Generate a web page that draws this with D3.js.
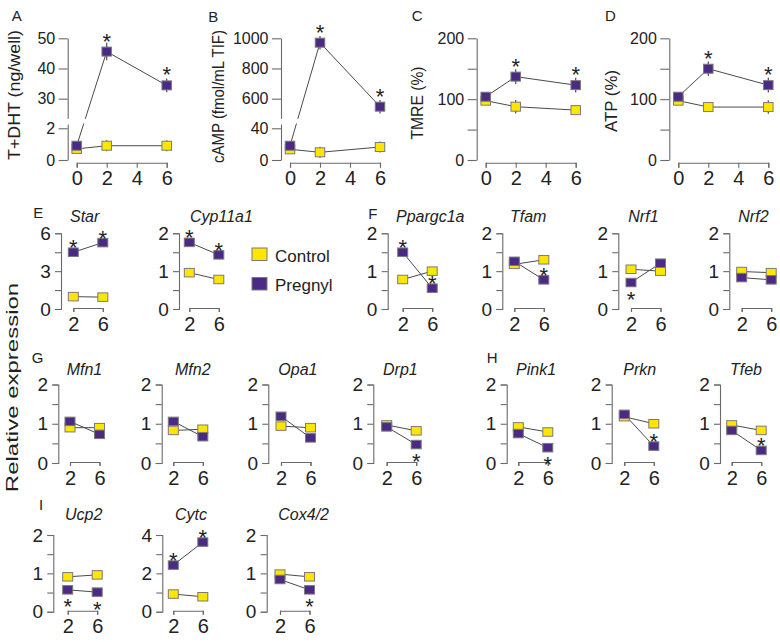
<!DOCTYPE html>
<html><head><meta charset="utf-8">
<script src="https://cdn.jsdelivr.net/npm/d3@7"></script>
<style>
body{margin:0;background:#fff;}
svg{display:block;font-family:"Liberation Sans",Arial,sans-serif;}
</style></head><body>
<svg id="chart" width="780" height="642"></svg>
<script>
// ---------------- DATA ----------------
const times = [0, 2, 6];
const topXTicks = [0, 2, 4, 6];
const topLetters = ["A", "B", "C", "D"];
const topTitles = ["T+DHT (ng/well)", "cAMP (fmol/mL TIF)", "TMRE (%)", "ATP (%)"];

const dhtControl = [0.7, 0.9, 0.9];
const dhtPregnyl = [0.9, 45.6, 34.4];
const dhtControlErr = [0.1, 0.35, 0.35];
const dhtPregnylErr = [0.15, 2.9, 2.3];

const campControl = [13.5, 9.7, 16.4];
const campPregnyl = [18, 971, 547];
const campControlErr = [3, 7, 7];
const campPregnylErr = [3, 45, 45];

const tmreControl = [97.5, 87.6, 82];
const tmrePregnyl = [104, 137, 123];
const tmreControlErr = [3, 11, 4];
const tmrePregnylErr = [4, 12, 12];

const atpControl = [97.5, 87, 87];
const atpPregnyl = [104, 150, 123];
const atpControlErr = [3, 3, 11];
const atpPregnylErr = [4, 12, 12];

// significance (index into times) for Pregnyl in top panels
const topSig = [[1, 2], [1, 2], [1, 2], [1, 2]];

// axis ticks for top panels (A,B broken axes)
const dhtLowerTicks = [0, 2], dhtUpperTicks = [30, 40, 50];
const dhtLowerMax = 2.27, dhtUpperMin = 23.5, dhtUpperMax = 50;
const campLowerTicks = [0, 40], campUpperTicks = [600, 800, 1000];
const campLowerMax = 45.4, campUpperMin = 470, campUpperMax = 1000;
const pctTicks = [0, 50, 100, 150, 200], pctLabels = [0, 100, 200];

const geneTimes = [2, 6];
const genes = ["Star", "Cyp11a1", "Ppargc1a", "Tfam", "Nrf1", "Nrf2",
               "Mfn1", "Mfn2", "Opa1", "Drp1", "Pink1", "Prkn", "Tfeb",
               "Ucp2", "Cytc", "Cox4/2"];
const controlExpr = [[0.98, 0.94], [0.96, 0.78], [0.78, 1.0], [1.18, 1.3], [1.05, 1.0], [0.99, 0.96],
                     [0.9, 0.9], [0.83, 0.86], [0.94, 0.9], [0.97, 0.82], [0.92, 0.79], [1.18, 1.0], [0.97, 0.83],
                     [0.91, 0.96], [0.92, 0.78], [0.98, 0.91]];
const pregnylExpr = [[4.5, 5.26], [1.76, 1.43], [1.5, 0.55], [1.26, 0.77], [0.7, 1.21], [0.83, 0.77],
                     [1.06, 0.73], [1.06, 0.67], [1.19, 0.64], [0.92, 0.47], [0.75, 0.39], [1.24, 0.43], [0.83, 0.32],
                     [0.57, 0.51], [2.43, 3.63], [0.84, 0.57]];
const controlExprErr = [[0, 0], [0, 0], [0.1, 0], [0, 0], [0, 0], [0, 0],
                        [0, 0], [0, 0], [0, 0], [0, 0], [0, 0], [0, 0], [0, 0],
                        [0, 0], [0, 0], [0, 0]];
const geneYMax = [6, 2, 2, 2, 2, 2, 2, 2, 2, 2, 2, 2, 2, 2, 4, 2];
const ticksBy = {2: [0, 0.5, 1, 1.5, 2], 4: [0, 1, 2, 3, 4], 6: [0, 1.5, 3, 4.5, 6]};
const labelsBy = {2: [0, 1, 2], 4: [0, 2, 4], 6: [0, 3, 6]};
// significance: [time index, "up" | "down"]
const geneSig = [[[0, "up"], [1, "up"]], [[0, "up"], [1, "up"]], [[0, "up"], [1, "up"]], [[1, "up"]], [[0, "down"]], [],
                 [], [], [], [[1, "down"]], [[1, "down"]], [[1, "up"]], [[1, "up"]],
                 [[0, "down"], [1, "down"]], [[0, "up"], [1, "up"]], [[1, "down"]]];
const legendLabels = ["Control", "Pregnyl"];
const groupLetters = [["E", 33.3, 218], ["F", 368.3, 219], ["G", 31.7, 363], ["H", 486.7, 363], ["I", 39, 510]];
const yTitle = "Relative expression";

// ---------------- LAYOUT ----------------
const PURPLE = "#4a2a84", YELLOW = "#ffe600", MSTROKE = "#7a7a7a", LINEC = "#4a4a4a", AXISC = "#6a6a6a", TEXTC = "#222";
const FONT = "'Liberation Sans', Arial, sans-serif";
const svg = d3.select("#chart");
const fmt = d3.format("d");

const topLayout = [
  {axisX: 67.7, x0: 76.7, x1: 166.7, lx: 11.7, ly: 20.7, tx: 19.5, ty: 95, tlen: 130},
  {axisX: 281, x0: 290, x1: 380, lx: 208.3, ly: 21.7, tx: 223.5, ty: 96.5, tlen: 133},
  {axisX: 476.7, x0: 485.7, x1: 575.7, lx: 411.7, ly: 21, tx: 423, ty: 103, tlen: 73},
  {axisX: 669.3, x0: 678.3, x1: 768.3, lx: 605, ly: 21, tx: 617, ty: 101, tlen: 62}
];
const TOP = {top: 38.3, zero: 160, breakHi: 118.3, breakLo: 124, xAxisY: 162.7};
const rows = {E: {top: 233.3, zero: 309, titleY: 222}, G: {top: 384.5, zero: 463, titleY: 375}, I: {top: 535, zero: 611.7, titleY: 520}};
const geneLayout = [
  ["E", 61, 73.3, 70], ["E", 179, 189.3, 190], ["E", 387.7, 402.7, 396], ["E", 502.3, 514.3, 510], ["E", 618.3, 631, 628.3], ["E", 729.3, 741.7, 738.3],
  ["G", 58.3, 70, 66.7], ["G", 161.7, 173.3, 175], ["G", 268.3, 281, 278.3], ["G", 373.3, 386.7, 383], ["G", 506.7, 518.3, 516], ["G", 611.7, 624.3, 623.3], ["G", 720, 731.7, 730],
  ["I", 53.3, 67.7, 65], ["I", 162.3, 173.3, 175], ["I", 266.7, 280, 278.3]
];

function styleAxis(g, fs) {
  g.attr("font-family", FONT).attr("font-size", fs).attr("color", AXISC);
  g.selectAll("path, line").attr("stroke", AXISC).attr("stroke-width", 1.1);
  g.selectAll("text").attr("fill", TEXTC);
}
function star(g, x, cy) {
  const fs = 22;
  g.append("text").attr("x", x).attr("y", cy + 0.59 * fs).attr("text-anchor", "middle")
    .attr("font-family", FONT).attr("font-size", fs).attr("fill", TEXTC).text("*");
}

// ---------------- TOP PANELS ----------------
const topData = [
  {c: dhtControl, p: dhtPregnyl, ce: dhtControlErr, pe: dhtPregnylErr, broken: true,
   lt: dhtLowerTicks, ut: dhtUpperTicks, lmax: dhtLowerMax, umin: dhtUpperMin, umax: dhtUpperMax},
  {c: campControl, p: campPregnyl, ce: campControlErr, pe: campPregnylErr, broken: true,
   lt: campLowerTicks, ut: campUpperTicks, lmax: campLowerMax, umin: campUpperMin, umax: campUpperMax},
  {c: tmreControl, p: tmrePregnyl, ce: tmreControlErr, pe: tmrePregnylErr, broken: false},
  {c: atpControl, p: atpPregnyl, ce: atpControlErr, pe: atpPregnylErr, broken: false}
];

topData.forEach((d, i) => {
  const L = topLayout[i];
  const g = svg.append("g");
  const x = d3.scaleLinear().domain([0, 6]).range([L.x0, L.x1]);
  let yf;
  if (d.broken) {
    const lower = d3.scaleLinear().domain([0, d.lmax]).range([TOP.zero, TOP.breakLo]);
    const upper = d3.scaleLinear().domain([d.umin, d.umax]).range([TOP.breakHi, TOP.top]);
    yf = v => v <= d.lmax ? lower(v) : upper(v);
    const ga = g.append("g").attr("transform", `translate(${L.axisX},0)`)
      .call(d3.axisLeft(upper).tickValues(d.ut).tickSize(9).tickSizeOuter(0).tickPadding(3.5).tickFormat(fmt));
    styleAxis(ga, 16);
    const gb = g.append("g").attr("transform", `translate(${L.axisX},0)`)
      .call(d3.axisLeft(lower).tickValues(d.lt).tickSize(9).tickSizeOuter(0).tickPadding(3.5).tickFormat(fmt));
    styleAxis(gb, 16);
  } else {
    const y = d3.scaleLinear().domain([0, 200]).range([TOP.zero, TOP.top]);
    yf = y;
    const ga = g.append("g").attr("transform", `translate(${L.axisX},0)`)
      .call(d3.axisLeft(y).tickValues(pctTicks).tickSize(9).tickSizeOuter(0).tickPadding(3.5)
        .tickFormat(v => pctLabels.includes(v) ? fmt(v) : ""));
    styleAxis(ga, 16);
  }
  const gx = g.append("g").attr("transform", `translate(0,${TOP.xAxisY})`)
    .call(d3.axisBottom(x).tickValues(topXTicks).tickSize(5).tickPadding(3).tickFormat(fmt));
  styleAxis(gx, 20);

  const line = d3.line().x((v, k) => x(times[k])).y(v => yf(v));
  g.append("path").attr("d", line(d.c)).attr("fill", "none").attr("stroke", LINEC).attr("stroke-width", 1);
  g.append("path").attr("d", line(d.p)).attr("fill", "none").attr("stroke", LINEC).attr("stroke-width", 1);
  if (d.broken) {
    g.append("rect").attr("x", L.axisX + 3).attr("y", TOP.breakHi + 0.5).attr("width", L.x1 - L.axisX)
      .attr("height", TOP.breakLo - TOP.breakHi - 1).attr("fill", "#fff");
  }
  [[d.c, d.ce], [d.p, d.pe]].forEach(([vals, errs]) => {
    vals.forEach((v, k) => {
      g.append("line").attr("x1", x(times[k])).attr("x2", x(times[k]))
        .attr("y1", yf(v - errs[k])).attr("y2", yf(v + errs[k]))
        .attr("stroke", LINEC).attr("stroke-width", 1.2);
    });
  });
  [[d.c, YELLOW], [d.p, PURPLE]].forEach(([vals, col]) => {
    vals.forEach((v, k) => {
      g.append("rect").attr("x", x(times[k]) - 4.75).attr("y", yf(v) - 4.5)
        .attr("width", 9.5).attr("height", 9).attr("fill", col).attr("stroke", MSTROKE).attr("stroke-width", 1);
    });
  });
  topSig[i].forEach(k => star(g, x(times[k]), yf(d.p[k]) - 16));

  g.append("text").attr("x", L.lx).attr("y", L.ly).attr("font-family", FONT).attr("font-size", 15)
    .attr("fill", TEXTC).text(topLetters[i]);
  g.append("text").attr("transform", `translate(${L.tx},${L.ty}) rotate(-90)`)
    .attr("text-anchor", "middle").attr("font-family", FONT).attr("font-size", 16).attr("fill", TEXTC)
    .attr("textLength", L.tlen).attr("lengthAdjust", "spacingAndGlyphs").text(topTitles[i]);
});

// ---------------- GENE PANELS ----------------
genes.forEach((gene, i) => {
  const [rowKey, axisX, bx, titleX] = geneLayout[i];
  const R = rows[rowKey];
  const g = svg.append("g");
  const yMax = geneYMax[i];
  const x = d3.scaleLinear().domain(geneTimes).range([bx, bx + 29.5]);
  const y = d3.scaleLinear().domain([0, yMax]).range([R.zero, R.top]);

  const ga = g.append("g").attr("transform", `translate(${axisX},0)`)
    .call(d3.axisLeft(y).tickValues(ticksBy[yMax]).tickSize(6).tickSizeOuter(6).tickPadding(4.3)
      .tickFormat(v => labelsBy[yMax].includes(v) ? fmt(v) : ""));
  styleAxis(ga, 19);
  const gx = g.append("g").attr("transform", `translate(0,${R.zero - 1})`)
    .call(d3.axisBottom(x).tickValues(geneTimes).tickSize(4).tickPadding(4.3).tickFormat(fmt));
  styleAxis(gx, 20);

  const line = d3.line().x((v, k) => x(geneTimes[k])).y(v => y(v));
  g.append("path").attr("d", line(controlExpr[i])).attr("fill", "none").attr("stroke", LINEC).attr("stroke-width", 1);
  g.append("path").attr("d", line(pregnylExpr[i])).attr("fill", "none").attr("stroke", LINEC).attr("stroke-width", 1);
  controlExpr[i].forEach((v, k) => {
    const e = controlExprErr[i][k];
    if (e > 0) g.append("line").attr("x1", x(geneTimes[k])).attr("x2", x(geneTimes[k]))
      .attr("y1", y(v - e)).attr("y2", y(v + e)).attr("stroke", LINEC).attr("stroke-width", 1.2);
  });
  [[controlExpr[i], YELLOW], [pregnylExpr[i], PURPLE]].forEach(([vals, col]) => {
    vals.forEach((v, k) => {
      g.append("rect").attr("x", x(geneTimes[k]) - 5).attr("y", y(v) - 4.25)
        .attr("width", 10).attr("height", 8.5).attr("fill", col).attr("stroke", MSTROKE).attr("stroke-width", 1);
    });
  });
  geneSig[i].forEach(([k, dir]) => {
    const cy = y(pregnylExpr[i][k]) + (dir === "up" ? -10 : 11.5);
    star(g, x(geneTimes[k]), cy);
  });
  g.append("text").attr("x", titleX).attr("y", R.titleY).attr("font-family", FONT)
    .attr("font-size", 16).attr("font-style", "italic").attr("fill", TEXTC).text(gene);
});

// group letters
groupLetters.forEach(([t, lx, ly]) => {
  svg.append("text").attr("x", lx).attr("y", ly).attr("font-family", FONT).attr("font-size", 15)
    .attr("fill", TEXTC).text(t);
});

// shared y title
svg.append("g").attr("transform", "translate(17.5,387.5) scale(0.7,1) rotate(-90)")
  .append("text").attr("text-anchor", "middle").attr("font-family", FONT).attr("font-size", 24)
  .attr("fill", TEXTC).text(yTitle);

// legend
const legendColors = [YELLOW, PURPLE];
const legendY = [248, 277.5];
const legendTextY = [261.5, 291];
legendLabels.forEach((lab, k) => {
  svg.append("rect").attr("x", 252).attr("y", legendY[k]).attr("width", 15).attr("height", 12.5)
    .attr("fill", legendColors[k]).attr("stroke", MSTROKE).attr("stroke-width", 1);
  svg.append("text").attr("x", 275).attr("y", legendTextY[k]).attr("font-family", FONT)
    .attr("font-size", 17).attr("fill", TEXTC).text(lab);
});
</script>
</body></html>
